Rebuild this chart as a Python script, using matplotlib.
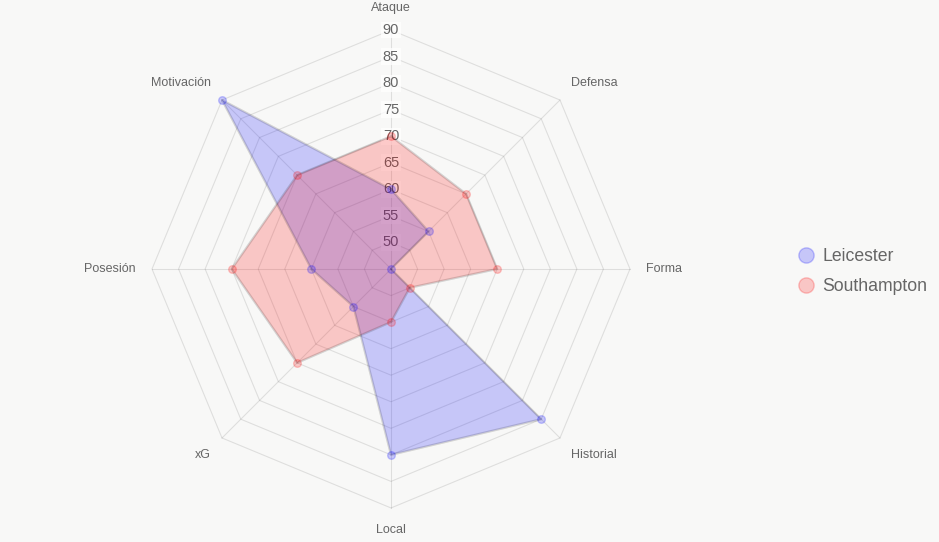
import numpy as np
import matplotlib.pyplot as plt
from matplotlib.lines import Line2D

plt.rcParams['font.family'] = ['Liberation Sans', 'DejaVu Sans']

# Radar data
categories = ['Ataque', 'Defensa', 'Forma', 'Historial', 'Local', 'xG', 'Posesión', 'Motivación']
leicester = [60, 55, 45, 85, 80, 55, 60, 90]
southampton = [70, 65, 65, 50, 55, 70, 75, 70]
ticks = [50, 55, 60, 65, 70, 75, 80, 85, 90]
r_min, r_max = 45, 90

bg = '#f8f8f7'
grid_col = (0, 0, 0, 0.1)
text_col = '#666666'

fig = plt.figure(figsize=(9.39, 5.42), dpi=100)
fig.patch.set_facecolor(bg)
ax = fig.add_axes([0.1619, 0.0627, 0.509, 0.882], projection='polar')
ax.set_theta_zero_location('N')
ax.set_theta_direction(-1)
ax.set_ylim(r_min, r_max)
ax.grid(False)
ax.set_xticks([])
ax.set_yticks([])
ax.spines['polar'].set_visible(False)
ax.patch.set_visible(False)

n = len(categories)
angles = np.arange(n) * 2 * np.pi / n
closed = np.append(angles, angles[0])

# polygon grid + spokes
for t in ticks:
    ax.plot(closed, [t] * (n + 1), color=grid_col, lw=0.8, zorder=1, clip_on=False)
for a in angles:
    ax.plot([a, a], [r_min, r_max], color=grid_col, lw=0.8, zorder=1, clip_on=False)

# tick labels on top spoke
for t in ticks:
    ax.text(0, t, str(t), ha='center', va='center', fontsize=10.5, color=text_col, zorder=2,
            bbox=dict(facecolor='white', alpha=0.75, edgecolor='none', pad=1))

# category labels
aligns = [('center', 'bottom'), ('left', 'bottom'), ('left', 'center'), ('left', 'top'),
          ('center', 'top'), ('right', 'top'), ('right', 'center'), ('right', 'bottom')]
for a, lab, (ha, va) in zip(angles, categories, aligns):
    ax.text(a, 93.0, lab, ha=ha, va=va, fontsize=9, color=text_col)

series = [('Leicester', leicester, (0, 0, 1)), ('Southampton', southampton, (1, 0, 0))]
for name, vals, c in series:
    v = np.append(vals, vals[0])
    ax.fill(closed, v, color=(*c, 0.2), lw=0, zorder=3, clip_on=False)
    ax.plot(closed, v, color=(0, 0, 0, 0.15), lw=1.6, zorder=4, clip_on=False)
    ax.plot(angles, vals, 'o', ms=5.5, mfc=(*c, 0.2), mec=(*c, 0.2), mew=1, zorder=5, clip_on=False)

handles = [Line2D([], [], ls='none', marker='o', ms=11, mfc=(*c, 0.2), mec=(*c, 0.22), mew=1)
           for _, _, c in series]
fig.legend(handles, [s[0] for s in series], loc='center left', bbox_to_anchor=(0.8485, 0.499),
           frameon=False, fontsize=12.7, labelcolor=text_col, handlelength=1.0, handletextpad=0.45,
           labelspacing=0.72, borderpad=0, borderaxespad=0)

fig.savefig('out.png', dpi=100, facecolor=bg)
